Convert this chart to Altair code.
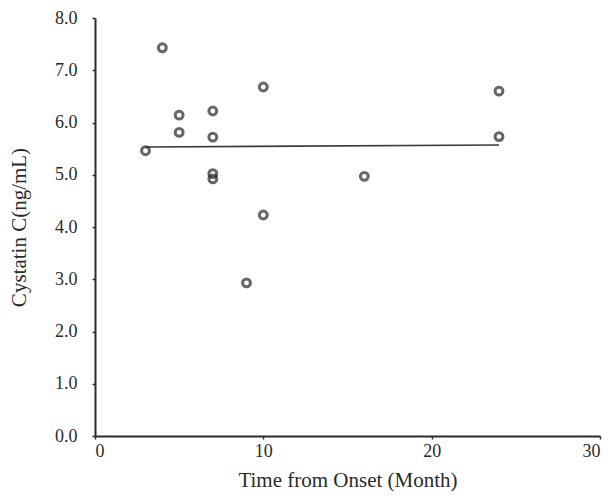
import altair as alt
import pandas as pd

months = [3, 4, 5, 5, 7, 7, 7, 7, 9, 10, 10, 16, 24, 24]
cystatin = [5.46, 7.43, 6.14, 5.81, 6.22, 5.72, 5.02, 4.92, 2.93, 6.68, 4.23, 4.97, 6.60, 5.73]

fit_x = [3, 24]
fit_y = [5.53, 5.57]

pts = pd.DataFrame({"month": months, "cys": cystatin})
fit = pd.DataFrame({"month": fit_x, "cys": fit_y})

xscale = alt.Scale(domain=[0, 30], nice=False, zero=False)
yscale = alt.Scale(domain=[0, 8], nice=False)

xaxis = alt.Axis(title="Time from Onset (Month)", values=[0, 10, 20, 30], format="d",
                 grid=False, tickSize=3, labelPadding=3, titlePadding=9)
yaxis = alt.Axis(title="Cystatin C(ng/mL)", values=[0, 1, 2, 3, 4, 5, 6, 7, 8], format=".1f",
                 grid=False, tickSize=3, labelPadding=15, titlePadding=25)

points = alt.Chart(pts).mark_point(shape="circle", filled=False, size=62, strokeWidth=3,
                                   color="#262626").encode(
    x=alt.X("month:Q", scale=xscale, axis=xaxis),
    y=alt.Y("cys:Q", scale=yscale, axis=yaxis),
)

line = alt.Chart(fit).mark_line(color="#3a3a3a", strokeWidth=1.6).encode(
    x=alt.X("month:Q", scale=xscale),
    y=alt.Y("cys:Q", scale=yscale),
)

chart = alt.layer(line, points).properties(
    width=505, height=418,
    autosize=alt.AutoSizeParams(type="none"),
    padding={"left": 87, "top": 10, "right": 2, "bottom": 58},
).configure_view(stroke=None).configure_axis(
    labelFont="Liberation Serif", titleFont="Liberation Serif",
    labelFontSize=18, titleFontSize=21, titleFontWeight="normal",
    labelColor="#2a2a2a", titleColor="#2a2a2a",
    domainColor="#2a2a2a", domainWidth=2, tickColor="#2a2a2a", tickWidth=1.5,
)

chart.save("out.html", embed_options={"renderer": "svg", "actions": False})
